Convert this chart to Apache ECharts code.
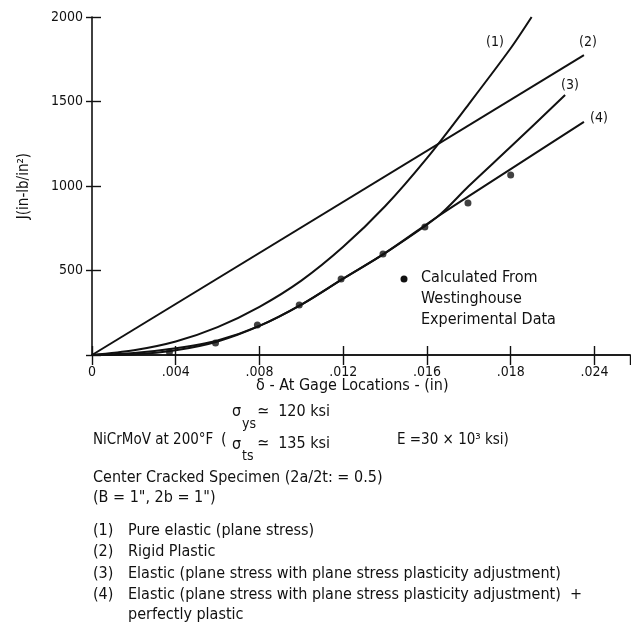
<!DOCTYPE html>
<html>
<head>
<meta charset="utf-8">
<script src="https://cdn.jsdelivr.net/npm/echarts@6/dist/echarts.min.js"></script>
<style>
  html, body { margin: 0; padding: 0; background: #fff; }
  #chart { width: 631px; height: 627px; }
</style>
</head>
<body>
<div id="chart"></div>
<script>
// Crack-opening displacement δ (in) vs J-integral (in-lb/in²)
const xTickLabels = ['0', '.004', '.008', '.012', '.016', '.018', '.024'];
const yTickLabels = ['', '500', '1000', '1500', '2000'];

// (1) Pure elastic (plane stress)
const pureElastic = [
  [0, 0], [0.002, 28], [0.004, 80], [0.006, 165], [0.008, 285], [0.010, 440],
  [0.012, 640], [0.014, 880], [0.016, 1165], [0.018, 1485], [0.020, 1815], [0.0210, 2000]
];
// (2) Rigid plastic
const rigidPlastic = [[0, 0], [0.0235, 1775]];
// (3) Elastic with plane stress plasticity adjustment
const elasticAdjusted = [
  [0, 0], [0.002, 12], [0.004, 40], [0.006, 86], [0.008, 172], [0.010, 298],
  [0.012, 452], [0.014, 603], [0.0165, 818], [0.018, 1000], [0.020, 1232], [0.0226, 1538]
];
// (4) Elastic with plasticity adjustment + perfectly plastic
const elasticPerfectlyPlastic = [
  [0, 0], [0.002, 4], [0.004, 28], [0.006, 80], [0.008, 172], [0.010, 298],
  [0.012, 452], [0.014, 603], [0.0165, 818], [0.018, 940], [0.020, 1100], [0.0235, 1379]
];
// Calculated from Westinghouse experimental data
const westinghouse = [
  [0.0037, 18], [0.0059, 71], [0.0079, 178], [0.0099, 296], [0.0119, 450],
  [0.0139, 598], [0.0159, 757], [0.01796, 899], [0.0200, 1065]
];

const curveTags = ['(1)', '(2)', '(3)', '(4)'];
const legendLines = [
  'Pure elastic (plane stress)',
  'Rigid Plastic',
  'Elastic (plane stress with plane stress plasticity adjustment)',
  'Elastic (plane stress with plane stress plasticity adjustment)  +',
  'perfectly plastic'
];

const FONT = "'DejaVu Sans Condensed', 'Liberation Sans Narrow', sans-serif";
const INK = '#111';

function txt(x, y, text, size, align) {
  return {
    type: 'text', x: x, y: y, silent: true,
    style: {
      text: text, fill: INK, font: size + 'px ' + FONT,
      textAlign: align || 'left', textVerticalAlign: 'middle'
    }
  };
}

const chart = echarts.init(document.getElementById('chart'), null, { renderer: 'canvas' });

const axisCommon = {
  type: 'value',
  axisLine: { show: true, lineStyle: { color: INK, width: 1.6 } },
  splitLine: { show: false },
  axisTick: { show: true, inside: true, length: 9, lineStyle: { color: INK, width: 1.4 } }
};

const graphics = [];
// curve tags
graphics.push(txt(495, 42, curveTags[0], 14, 'center'));
graphics.push(txt(588, 42, curveTags[1], 14, 'center'));
graphics.push(txt(570, 85, curveTags[2], 14, 'center'));
graphics.push(txt(599, 118, curveTags[3], 14, 'center'));
// data legend
graphics.push({ type: 'circle', silent: true, shape: { cx: 404, cy: 279, r: 3.5 }, style: { fill: INK } });
graphics.push(txt(421, 278, 'Calculated From', 16));
graphics.push(txt(421, 299, 'Westinghouse', 16));
graphics.push(txt(421, 320, 'Experimental Data', 16));
// x axis title
graphics.push(txt(256, 386, 'δ - At Gage Locations - (in)', 16));
// material block
graphics.push(txt(232, 412, 'σ', 16));
graphics.push(txt(242, 424, 'ys', 14));
graphics.push(txt(257, 412, '≃  120 ksi', 16));
graphics.push(txt(93, 440, 'NiCrMoV at 200°F', 15));
graphics.push(txt(221, 440, '(', 16));
graphics.push(txt(232, 445, 'σ', 16));
graphics.push(txt(242, 456, 'ts', 14));
graphics.push(txt(257, 444, '≃  135 ksi', 16));
graphics.push(txt(397, 440, 'E =30 × 10³ ksi)', 15));
graphics.push(txt(93, 478, 'Center Cracked Specimen (2a/2t: = 0.5)', 16));
graphics.push(txt(93, 498, '(B = 1", 2b = 1")', 16));
// curve legend
const legendY = [531, 552, 574, 595, 615];
legendLines.forEach(function (line, i) {
  if (i < 4) graphics.push(txt(93, legendY[i], curveTags[i], 16));
  graphics.push(txt(128, legendY[i], line, 16));
});

function curve(data) {
  return {
    type: 'line', data: data, symbol: 'none', smooth: 0.3,
    lineStyle: { color: INK, width: 2 }, silent: true, z: 3
  };
}

chart.setOption({
  animation: false,
  backgroundColor: '#fff',
  grid: { left: 92, top: 17, right: 1, bottom: 272 },
  xAxis: [
    Object.assign({}, axisCommon, {
      position: 'bottom', min: 0, max: 0.0257, interval: 0.004,
      axisLabel: {
        show: true, showMaxLabel: false, margin: 10, color: INK, fontSize: 14, fontFamily: FONT,
        formatter: function (v) { return xTickLabels[Math.round(v / 0.004)] || ''; }
      }
    }),
    Object.assign({}, axisCommon, {
      position: 'top', min: 0, max: 0.0257, interval: 0.004,
      axisLabel: { show: false },
      axisTick: { show: true, inside: true, length: 10, lineStyle: { color: INK, width: 1.4 } }
    })
  ],
  yAxis: [
    Object.assign({}, axisCommon, {
      position: 'left', min: 0, max: 2000, interval: 500,
      axisLabel: {
        show: true, margin: 9, color: INK, fontSize: 14, fontFamily: FONT,
        formatter: function (v) { return yTickLabels[Math.round(v / 500)] || ''; }
      },
      name: 'J(in-lb/in²)', nameLocation: 'middle', nameGap: 60, nameRotate: 90,
      nameTextStyle: { color: INK, fontSize: 15, fontFamily: FONT }
    }),
    Object.assign({}, axisCommon, {
      position: 'right', min: 0, max: 2000, interval: 500,
      axisLine: { show: false },
      axisLabel: { show: false },
      axisTick: { show: true, inside: true, length: 6, lineStyle: { color: INK, width: 1.4 } }
    })
  ],
  series: [
    curve(pureElastic),
    curve(rigidPlastic),
    curve(elasticAdjusted),
    curve(elasticPerfectlyPlastic),
    {
      type: 'scatter', data: westinghouse, symbol: 'circle', symbolSize: 7,
      itemStyle: { color: INK }, silent: true, z: 4
    }
  ],
  graphic: graphics
});
</script>
</body>
</html>
